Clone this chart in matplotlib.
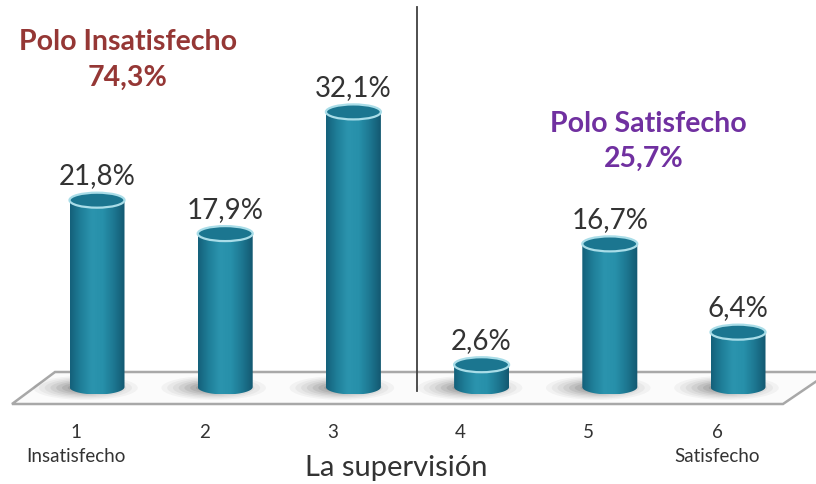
import matplotlib
matplotlib.use("Agg")
import matplotlib.pyplot as plt
import numpy as np
from matplotlib.patches import Ellipse, Polygon, PathPatch
from matplotlib.path import Path
from matplotlib.colors import LinearSegmentedColormap

# ---- data ----
categories = [1, 2, 3, 4, 5, 6]
tick_labels = ["1", "2", "3", "4", "5", "6"]
values = [21.8, 17.9, 32.1, 2.6, 16.7, 6.4]
value_labels = ["21,8%", "17,9%", "32,1%", "2,6%", "16,7%", "6,4%"]
end_labels = {1: "Insatisfecho", 6: "Satisfecho"}
xlabel = "La supervisión"
pole_left_title = "Polo Insatisfecho"
pole_left_value = "74,3%"
pole_right_title = "Polo Satisfecho"
pole_right_value = "25,7%"

plt.rcParams['font.family'] = ['Lato', 'DejaVu Sans']

W, H = 816, 485
fig = plt.figure(figsize=(W / 100, H / 100), dpi=100)
ax = fig.add_axes([0, 0, 1, 1])

# pixel <-> data mapping (layout)
px_per_x = 128.2
px_per_y = 8.57
x0 = 1 - 97 / px_per_x
y_base_px = 388
ax.set_xlim(x0, x0 + W / px_per_x)
ax.set_ylim(-(H - y_base_px) / px_per_y, y_base_px / px_per_y)
ax.axis('off')

def PX(px):
    return x0 + px / px_per_x

def PY(py):
    return (y_base_px - py) / px_per_y

# floor plane
floor = Polygon([(PX(12), PY(405)), (PX(55), PY(373)), (PX(830), PY(373)),
                 (PX(783), PY(405))], closed=True, facecolor='#fbfbfb',
                edgecolor='#a8a8a8', lw=1.8, zorder=1)
ax.add_patch(floor)

# separator line
ax.plot([3.5, 3.5], [PY(8), PY(392)], color='#404040', lw=1.3, zorder=2)

bw = 55 / px_per_x
eh = 15 / px_per_y
cmap = LinearSegmentedColormap.from_list(
    "cyl", ['#14607a', '#1f7f99', '#2b94ae', '#2790aa', '#1d7791', '#135870'])
grad = np.linspace(0, 1, 256).reshape(1, -1)

for x, v, lab in zip(categories, values, value_labels):
    # shadow
    for k, a in zip(range(7), [0.05, 0.06, 0.07, 0.09, 0.11, 0.13, 0.15]):
        s = 1 - k * 0.11
        ax.add_patch(Ellipse((x - 0.09, -0.1), bw * 1.9 * s, eh * 1.6 * s,
                             facecolor='#505050', edgecolor='none', alpha=a,
                             zorder=2))
    # body path
    t = np.linspace(np.pi, 2 * np.pi, 60)
    arc = np.column_stack([x + bw / 2 * np.cos(t), 0 + eh / 2 * np.sin(t)])
    verts = np.vstack([[x - bw / 2, v], arc, [x + bw / 2, v], [x - bw / 2, v]])
    path = Path(verts, closed=True)
    patch = PathPatch(path, facecolor='none', edgecolor='none', zorder=3)
    ax.add_patch(patch)
    im = ax.imshow(grad, cmap=cmap, aspect='auto',
                   extent=[x - bw / 2, x + bw / 2, -eh / 2, v], zorder=3,
                   interpolation='bilinear')
    im.set_clip_path(patch)
    # top ellipse
    ax.add_patch(Ellipse((x, v), bw, eh, facecolor='#1b7690',
                         edgecolor='#a9dde8', lw=1.6, zorder=4))
    # value label
    ax.text(x, v + 25 / px_per_y, lab, ha='center', va='center',
            fontsize=20, color='#333333', zorder=5)

# tick labels (perspective: shifted left of the bar centres)
tick_shift = 21 / px_per_x
for x, t in zip(categories, tick_labels):
    ax.text(x - tick_shift, PY(433), t, ha='center', va='center', fontsize=13.5,
            color='#333333')
for x, t in end_labels.items():
    ax.text(x - tick_shift, PY(457), t, ha='center', va='center', fontsize=13.5,
            color='#333333')
ax.text(PX(396), PY(468), xlabel, ha='center', va='center', fontsize=21,
        color='#333333')

# pole annotations
red = '#953735'
purple = '#7030a0'
ax.text(PX(128), PY(42), pole_left_title, ha='center', va='center',
        fontsize=20.5, fontweight='bold', color=red)
ax.text(PX(128), PY(78), pole_left_value, ha='center', va='center',
        fontsize=20.5, fontweight='bold', color=red)
ax.text(PX(648), PY(124), pole_right_title, ha='center', va='center',
        fontsize=20.5, fontweight='bold', color=purple)
ax.text(PX(644), PY(159), pole_right_value, ha='center', va='center',
        fontsize=20.5, fontweight='bold', color=purple)

fig.savefig("out.png", dpi=100)
